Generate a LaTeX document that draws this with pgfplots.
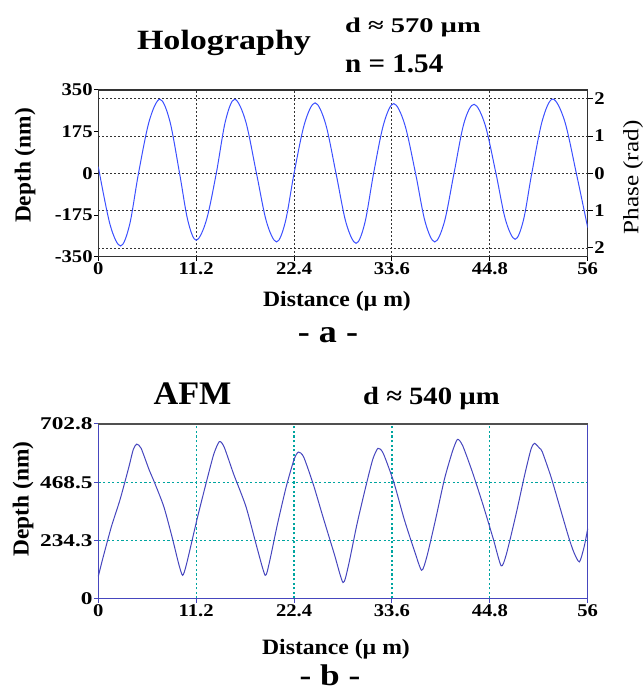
\documentclass[border=0pt]{standalone}
\usepackage{fontspec}
\setmainfont{Liberation Serif}
\newfontfamily\tickfont[FakeStretch=1.15]{Liberation Serif}
\newfontfamily\tickfontw[FakeStretch=1.3]{Liberation Serif}
\usepackage{graphicx}
\usepackage{pgfplots}
\pgfplotsset{compat=1.18}
\usepackage{pgfplotstable}

\definecolor{holoblue}{RGB}{60,80,255}
\definecolor{afmblue}{RGB}{70,70,190}
\definecolor{afmgrid}{RGB}{0,165,160}
\definecolor{framegray}{RGB}{80,80,80}

\newcommand{\hs}[2]{\scalebox{#1}[1]{#2}}

% holography profile, depth in nm
\pgfplotstableread{
x y
0 28
1.35 -216
2.55 -305
3.58 -216
4.6 0
5.83 220
7.05 311
8.18 220
9.3 0
10.25 -199
11.2 -281
12.35 -199
13.5 0
14.55 220
15.6 311
16.85 220
18.1 0
19.25 -204
20.4 -288
21.4 -204
22.4 0
23.6 209
24.8 296
26.0 209
27.2 0
28.35 -208
29.5 -294
30.5 -208
31.5 0
32.65 207
33.8 293
35.05 207
36.3 0
37.4 -204
38.5 -288
39.6 -204
40.7 0
41.85 212
43.0 290
44.25 205
45.5 0
46.6 -196
47.7 -277
48.65 -196
49.6 0
50.8 221
52.0 312
53.35 221
54.7 0
56 -228
}\holo

% AFM profile, depth in nm
\pgfplotstableread{
x y
0 90
0.5 160
1.5 290
2.5 400
3.5 530
4.0 600
4.4 622
4.9 605
5.8 520
6.4 470
7.5 370
8.5 240
9.2 140
9.65 94
10.1 140
11.3 320
12.3 460
13.2 580
13.85 632
14.4 610
15.5 500
16.9 370
18.2 200
19.1 94
19.6 150
20.5 300
21.5 450
22.4 560
22.9 590
23.5 570
24.6 460
25.7 330
27.0 180
28.0 65
28.6 130
29.6 300
30.6 450
31.4 560
32.0 605
32.6 585
33.8 470
35.0 320
36.2 190
37.0 114
37.6 170
38.6 320
39.6 480
40.5 590
41.1 641
41.7 615
42.8 510
44.0 380
45.2 240
46.1 132
46.7 180
47.8 340
48.8 500
49.5 600
49.9 625
50.5 605
50.8 591
51.8 490
52.8 370
53.8 250
54.4 188
55.05 148
55.6 210
56 282
}\afm

\pgfplotsset{
  panel/.style={
    scale only axis, width=489.4bp,
    xmin=0, xmax=56,
    xtick={0,11.2,22.4,33.6,44.8,56},
    xticklabels={0,11.2,22.4,33.6,44.8,56},
    xtick pos=left, ytick pos=left,
    tick align=outside, major tick length=4bp,
    ticklabel style={font=\fontsize{18}{18}\tickfont\bfseries, inner sep=1.5bp},
  },
}

\begin{document}
\begin{tikzpicture}[x=1bp,y=1bp]
\path[use as bounding box] (0,0) rectangle (643,694);

% ---- panel a: phase axis (right) with horizontal grid
\begin{axis}[
  at={(98.3bp,437.3bp)}, anchor=south west,
  scale only axis, width=489.4bp, height=166.7bp,
  xmin=0, xmax=56, ymin=-2.234, ymax=2.234,
  axis x line=none, axis y line*=right,
  ytick={-2,-1,0,1,2}, yticklabels={2,1,0,1,2},
  tick align=outside, major tick length=5bp,
  ymajorgrids,
  grid style={black!80, line width=0.9bp, dash pattern=on 2bp off 2bp},
  axis line style={black!80, line width=1.1bp},
  tick style={black, line width=1bp},
  ticklabel style={font=\fontsize{18}{18}\tickfont\bfseries, inner sep=1.5bp},
]
\end{axis}

% ---- panel a: depth axis (left) with the profile
\begin{axis}[
  panel,
  at={(98.3bp,437.3bp)}, anchor=south west,
  height=166.7bp,
  ymin=-350, ymax=350,
  ytick={-350,-175,0,175,350},
  yticklabels={-350,-175,0,175,350},
  xmajorgrids,
  grid style={black!80, line width=0.9bp, dash pattern=on 2bp off 2bp},
  axis line style={black!80, line width=1.1bp},
  tick style={black, line width=1bp},
]
\addplot[holoblue, line width=1bp, smooth, tension=0.55] table {\holo};
\end{axis}

% ---- panel b: AFM
\begin{axis}[
  panel,
  at={(98.3bp,95.3bp)}, anchor=south west,
  height=174.7bp,
  ymin=0, ymax=702.8,
  ytick={0,234.3,468.5,702.8},
  yticklabels={0,234.3,468.5,702.8},
  yticklabel style={font=\fontsize{18}{18}\tickfontw\bfseries},
  xmajorgrids, ymajorgrids,
  grid style={afmgrid, line width=1.3bp, dash pattern=on 2.3bp off 2.3bp},
  axis line style={afmblue, line width=1.1bp},
  tick style={afmblue, line width=1bp},
  clip=false,
]
\addplot[afmblue, line width=1bp, smooth, tension=0.4] table {\afm};
\draw[framegray, line width=1.3bp] (rel axis cs:0,1) -- (rel axis cs:1,1);
\end{axis}

% ---- texts
\node[anchor=base] at (224,644) {\fontsize{28}{28}\selectfont\bfseries\hs{1.22}{Holography}};
\node[anchor=base west, inner sep=0] at (345,661) {\fontsize{21}{21}\selectfont\bfseries\hs{1.36}{d ≈ 570 µm}};
\node[anchor=base west, inner sep=0] at (345,621) {\fontsize{27}{27}\selectfont\bfseries\hs{1.08}{n = 1.54}};
\node[anchor=base] at (337,387.3) {\fontsize{22}{22}\selectfont\bfseries\hs{1.08}{Distance (µ m)}};
\node[anchor=base] at (328,351) {\fontsize{32}{32}\selectfont\bfseries\hs{1.13}{- a -}};
\node[rotate=90] at (25,528.5) {\fontsize{23}{23}\selectfont\bfseries\hs{1.02}{Depth (nm)}};
\node[rotate=90, inner sep=0] at (633,516.5) {\fontsize{22}{22}\selectfont\hs{1.15}{Phase (rad)}};

\node[anchor=base] at (192.5,289) {\fontsize{33}{33}\selectfont\bfseries\hs{1.04}{AFM}};
\node[anchor=base west, inner sep=0] at (363,289) {\fontsize{25}{25}\selectfont\bfseries\hs{1.15}{d ≈ 540 µm}};
\node[rotate=90] at (23,195) {\fontsize{23}{23}\selectfont\bfseries\hs{1.02}{Depth (nm)}};
\node[anchor=base] at (336,39) {\fontsize{22}{22}\selectfont\bfseries\hs{1.08}{Distance (µ m)}};
\node[anchor=base] at (330,8) {\fontsize{30}{30}\selectfont\bfseries\hs{1.18}{- b -}};
\end{tikzpicture}
\end{document}
